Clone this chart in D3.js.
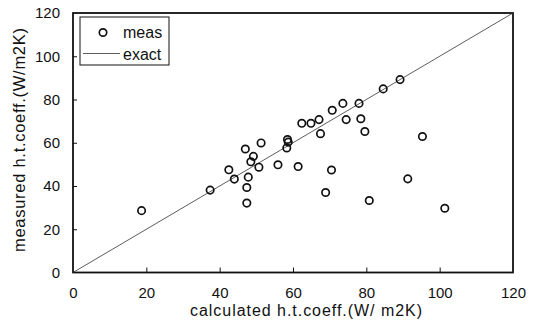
<!DOCTYPE html>
<html>
<head>
<meta charset="utf-8">
<script src="https://cdn.jsdelivr.net/npm/d3@7"></script>
<style>
  html, body { margin: 0; padding: 0; background: #fff; }
  svg { display: block; font-family: "Liberation Sans", Arial, sans-serif; }
</style>
</head>
<body>
<svg id="chart" width="539" height="331"></svg>
<script>
// Heat-transfer coefficient: calculated vs measured (W/m2K)
const calcX = [18.7, 37.4, 42.5, 44.0, 47.0, 47.8, 47.4, 47.4, 49.2, 48.5, 50.7, 51.3,
               55.9, 58.5, 58.7, 58.3, 61.4, 62.4, 64.9, 67.1, 67.5, 70.7, 70.5, 68.9,
               73.6, 74.5, 78.0, 78.5, 79.6, 80.8, 84.6, 89.2, 91.3, 95.3, 101.4];
const measY = [28.6, 38.1, 47.5, 43.2, 57.1, 44.1, 39.3, 32.1, 53.7, 51.2, 48.7, 59.9,
               49.8, 61.5, 60.3, 57.6, 49.0, 69.0, 69.0, 70.7, 64.2, 75.0, 47.4, 37.0,
               78.2, 70.7, 78.2, 71.1, 65.2, 33.3, 84.9, 89.2, 43.3, 62.9, 29.7];
const xTicks = [0, 20, 40, 60, 80, 100, 120];
const yTicks = [0, 20, 40, 60, 80, 100, 120];
const exactLine = [0, 120];
const legendLabels = ["meas", "exact"];
const xTitle = "calculated h.t.coeff.(W/ m2K)";
const yTitle = "measured h.t.coeff.(W/m2K)";

const svg = d3.select("#chart");
const m = { left: 73, right: 513, top: 13, bottom: 272.5 };

const x = d3.scaleLinear().domain([0, 120]).range([m.left, m.right]);
const y = d3.scaleLinear().domain([0, 120]).range([m.bottom, m.top]);

// axes with inward ticks
const xAxis = svg.append("g")
  .attr("transform", `translate(0,${m.bottom})`)
  .call(d3.axisBottom(x).tickValues(xTicks).tickSizeInner(-5).tickSizeOuter(0).tickPadding(14.5));
const yAxis = svg.append("g")
  .attr("transform", `translate(${m.left},0)`)
  .call(d3.axisLeft(y).tickValues(yTicks).tickSizeInner(-4).tickSizeOuter(0).tickPadding(13));

[xAxis, yAxis].forEach(g => {
  g.select(".domain").remove();
  g.selectAll("line").attr("stroke", "#111").attr("stroke-width", 1);
  g.selectAll("text").attr("font-size", 15).attr("fill", "#111")
    .attr("font-family", "\"Liberation Sans\", Arial, sans-serif");
});
xAxis.selectAll(".tick")
  .filter(d => d === 0 || d === 120).select("line").remove();
yAxis.selectAll(".tick")
  .filter(d => d === 0 || d === 120).select("line").remove();

// plot frame
svg.append("rect")
  .attr("x", x(0)).attr("y", y(120))
  .attr("width", x(120) - x(0)).attr("height", y(0) - y(120))
  .attr("fill", "none").attr("stroke", "#111").attr("stroke-width", 1.8);

// exact (1:1) line
svg.append("line")
  .attr("x1", x(exactLine[0])).attr("y1", y(exactLine[0]))
  .attr("x2", x(exactLine[1])).attr("y2", y(exactLine[1]))
  .attr("stroke", "#333").attr("stroke-width", 0.8);

// measured points
svg.append("g").selectAll("circle")
  .data(calcX.map((v, i) => [v, measY[i]]))
  .join("circle")
  .attr("cx", d => x(d[0])).attr("cy", d => y(d[1]))
  .attr("r", 3.7)
  .attr("fill", "none").attr("stroke", "#111").attr("stroke-width", 1.7);

// legend
const lg = svg.append("g");
lg.append("rect").attr("x", 80).attr("y", 17).attr("width", 89).attr("height", 48)
  .attr("fill", "#fff").attr("stroke", "#111").attr("stroke-width", 1);
lg.append("circle").attr("cx", 103).attr("cy", 32.5).attr("r", 3.7)
  .attr("fill", "none").attr("stroke", "#111").attr("stroke-width", 1.7);
lg.append("line").attr("x1", 83).attr("x2", 120).attr("y1", 53.5).attr("y2", 53.5)
  .attr("stroke", "#333").attr("stroke-width", 0.8);
lg.selectAll("text").data(legendLabels).join("text")
  .attr("x", 123).attr("y", (d, i) => 37.5 + i * 22)
  .attr("font-size", 16).attr("fill", "#111")
  .text(d => d);

// axis titles
svg.append("text")
  .attr("x", 306).attr("y", 316)
  .attr("text-anchor", "middle").attr("font-size", 16).attr("fill", "#111")
  .attr("textLength", 232).attr("lengthAdjust", "spacing")
  .text(xTitle);
svg.append("text")
  .attr("transform", `translate(25,140) rotate(-90)`)
  .attr("text-anchor", "middle").attr("font-size", 16.5).attr("fill", "#111")
  .attr("textLength", 224).attr("lengthAdjust", "spacing")
  .text(yTitle);
</script>
</body>
</html>
